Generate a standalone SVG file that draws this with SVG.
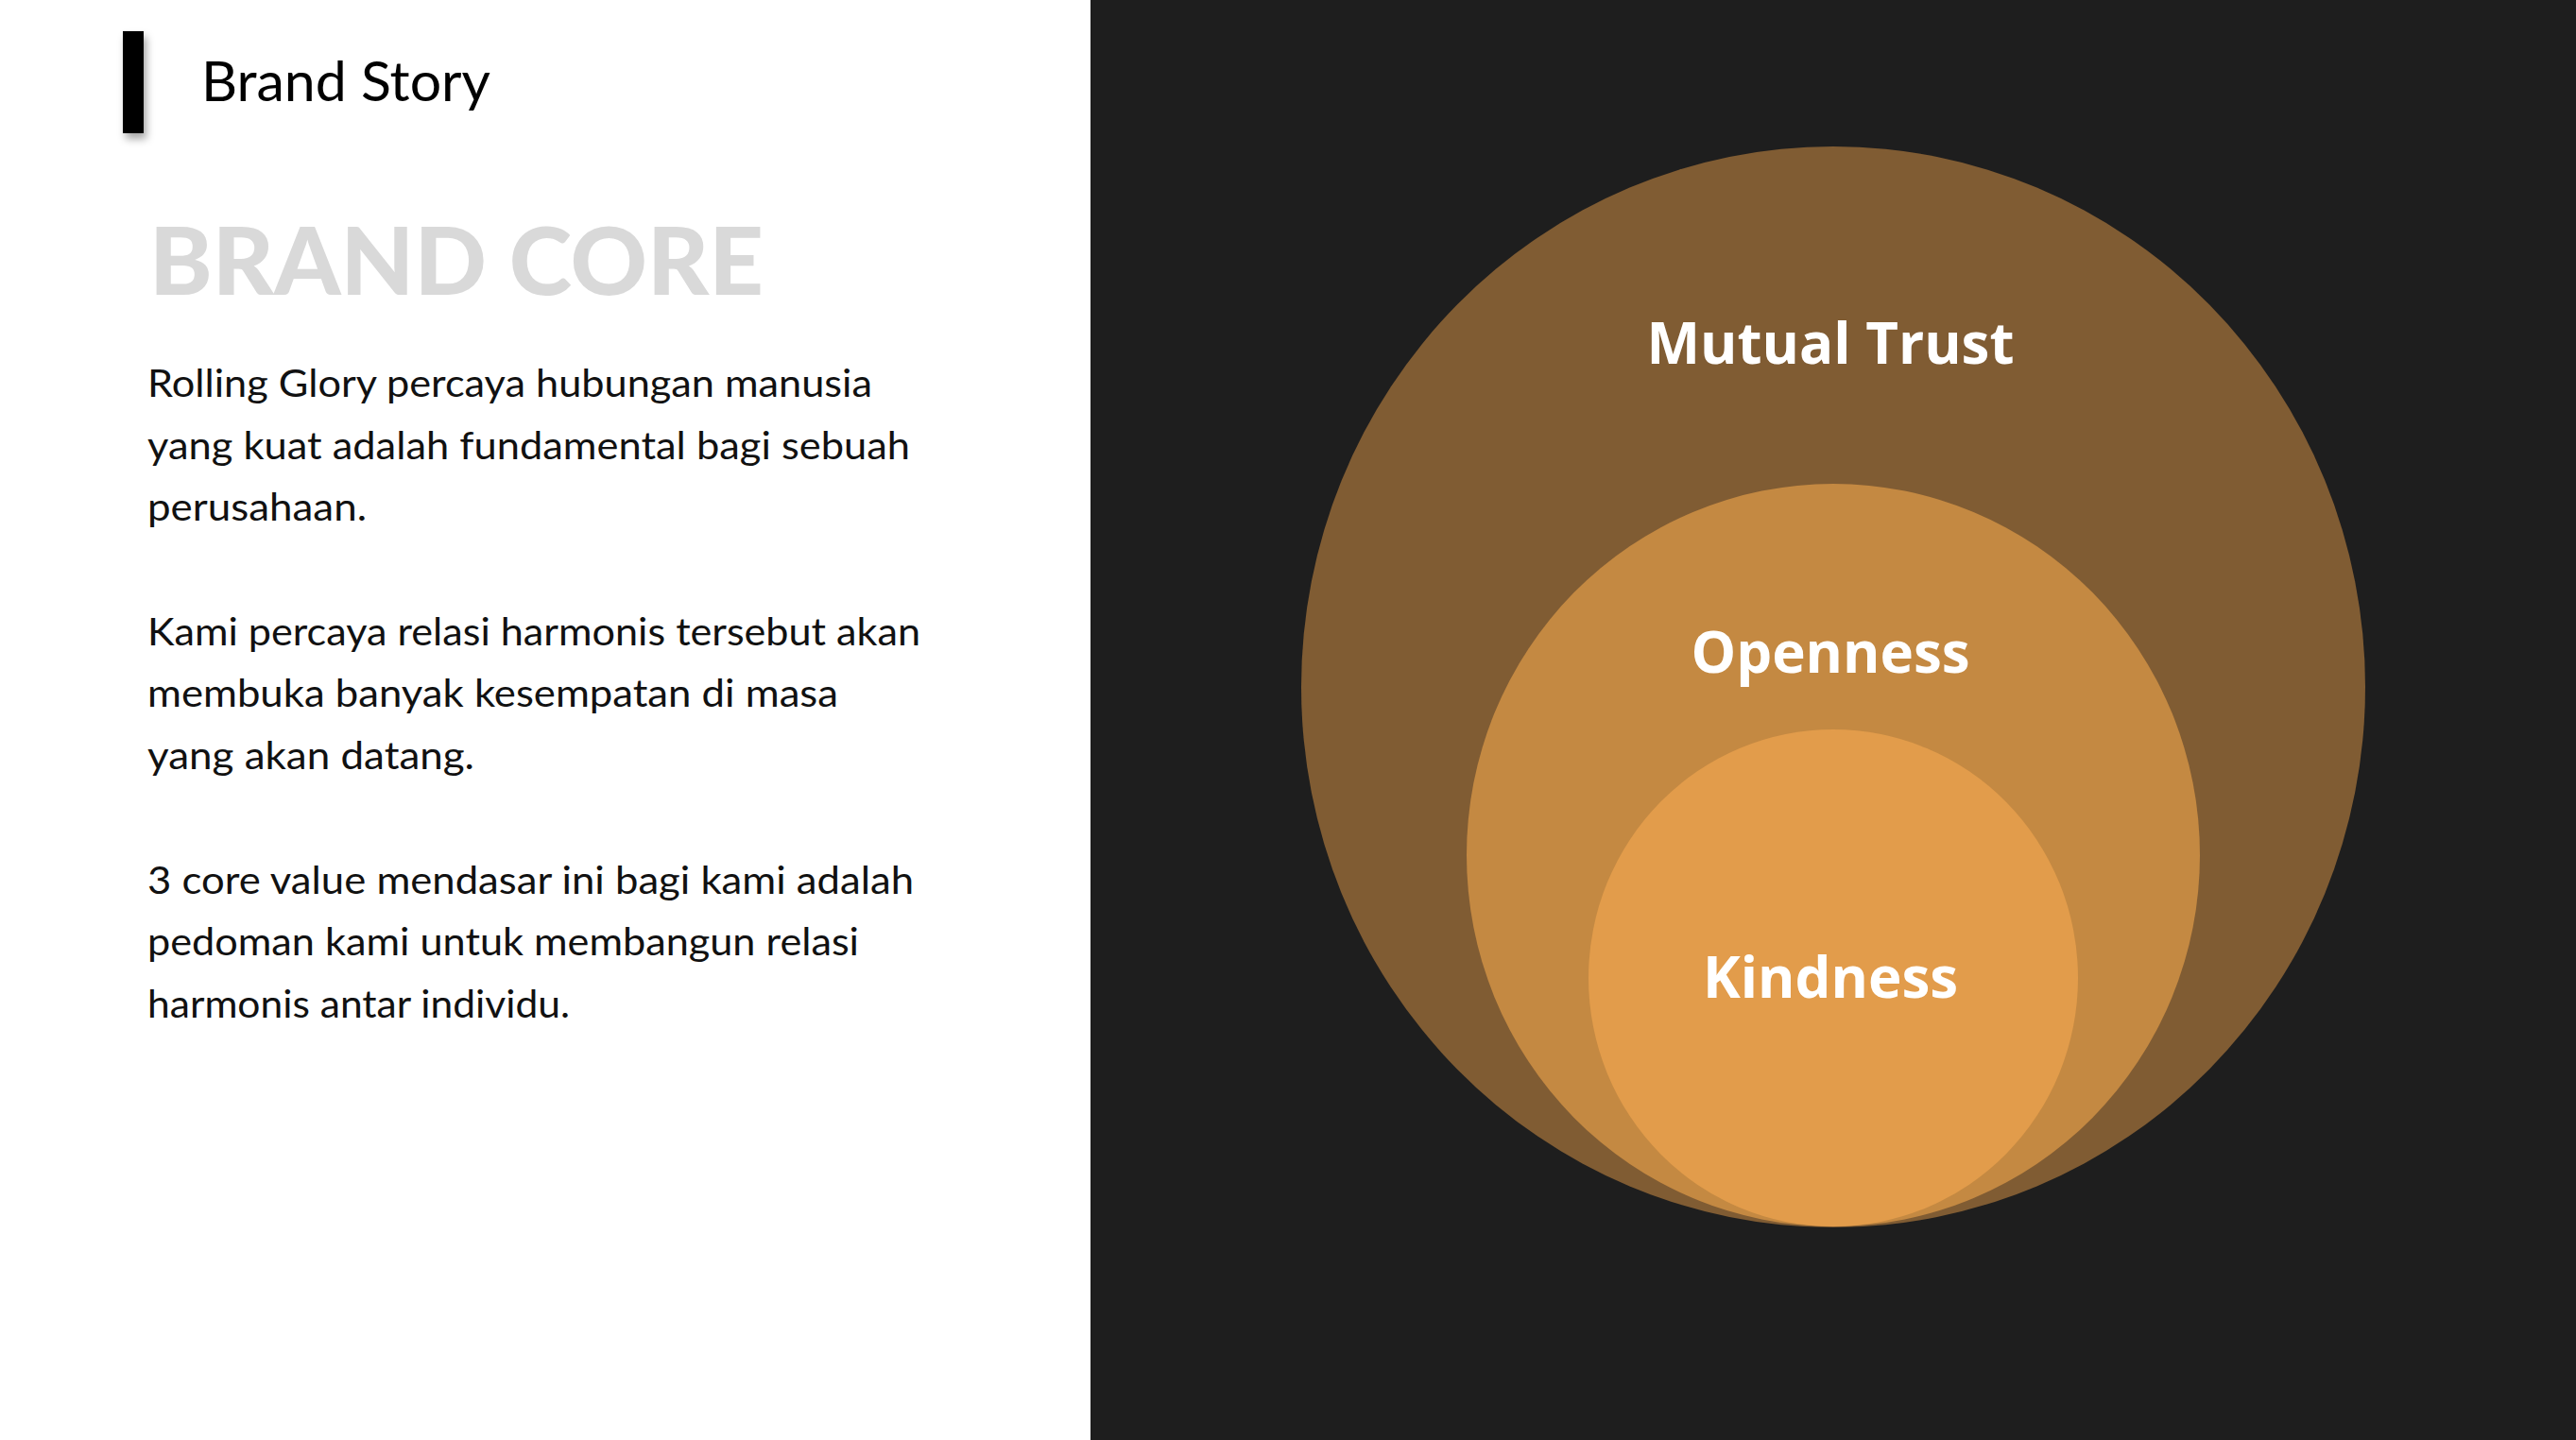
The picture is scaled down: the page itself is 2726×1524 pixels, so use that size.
<svg xmlns="http://www.w3.org/2000/svg" width="2726" height="1524" viewBox="0 0 2726 1524">
  <defs>
    <filter id="barShadow" x="-100%" y="-20%" width="300%" height="150%">
      <feDropShadow dx="3" dy="6" stdDeviation="4" flood-color="#000" flood-opacity="0.35"/>
    </filter>
  </defs>
  <style>
    .title { font-family: Lato, "Liberation Sans", sans-serif; font-size: 58px; fill: #000; }
    .heading { font-family: Lato, "Liberation Sans", sans-serif; font-weight: 900; font-size: 100px; fill: #d9d9d9; }
    .body { font-family: Lato, "Liberation Sans", sans-serif; font-size: 41px; fill: #111; }
    .label { font-family: "Open Sans", "DejaVu Sans", sans-serif; font-weight: 700; font-size: 60px; fill: #fff; text-anchor: middle; }
  </style>

  <!-- page halves -->
  <rect x="0" y="0" width="2726" height="1524" fill="#ffffff"/>
  <rect x="1154" y="0" width="1572" height="1524" fill="#1e1e1e"/>

  <!-- header -->
  <g id="header">
    <rect x="130" y="33" width="22" height="108" fill="#000" filter="url(#barShadow)"/>
    <text class="title" x="213" y="107" textLength="306" lengthAdjust="spacingAndGlyphs">Brand Story</text>
  </g>

  <!-- left column copy -->
  <g id="brand-core-text">
    <text class="heading" x="158" y="312" textLength="650" lengthAdjust="spacingAndGlyphs">BRAND CORE</text>
    <text class="body" x="156" y="420" textLength="767" lengthAdjust="spacingAndGlyphs">Rolling Glory percaya hubungan manusia</text>
    <text class="body" x="156" y="486" textLength="807" lengthAdjust="spacingAndGlyphs">yang kuat adalah fundamental bagi sebuah</text>
    <text class="body" x="156" y="551" textLength="232" lengthAdjust="spacingAndGlyphs">perusahaan.</text>
    <text class="body" x="156" y="683" textLength="818" lengthAdjust="spacingAndGlyphs">Kami percaya relasi harmonis tersebut akan</text>
    <text class="body" x="156" y="748" textLength="731" lengthAdjust="spacingAndGlyphs">membuka banyak kesempatan di masa</text>
    <text class="body" x="156" y="814" textLength="346" lengthAdjust="spacingAndGlyphs">yang akan datang.</text>
    <text class="body" x="156" y="946" textLength="811" lengthAdjust="spacingAndGlyphs">3 core value mendasar ini bagi kami adalah</text>
    <text class="body" x="156" y="1011" textLength="753" lengthAdjust="spacingAndGlyphs">pedoman kami untuk membangun relasi</text>
    <text class="body" x="156" y="1077" textLength="447" lengthAdjust="spacingAndGlyphs">harmonis antar individu.</text>
  </g>

  <!-- nested core values -->
  <g id="mutual-trust">
    <ellipse cx="1940" cy="727" rx="563" ry="572" fill="#805c33"/>
    <text class="label" x="1937" y="385">Mutual Trust</text>
  </g>
  <g id="openness">
    <ellipse cx="1940" cy="905" rx="388" ry="393" fill="#c48942"/>
    <text class="label" x="1937" y="712">Openness</text>
  </g>
  <g id="kindness">
    <ellipse cx="1940" cy="1035" rx="259" ry="263" fill="#e29c4b"/>
    <text class="label" x="1937" y="1056">Kindness</text>
  </g>
</svg>
